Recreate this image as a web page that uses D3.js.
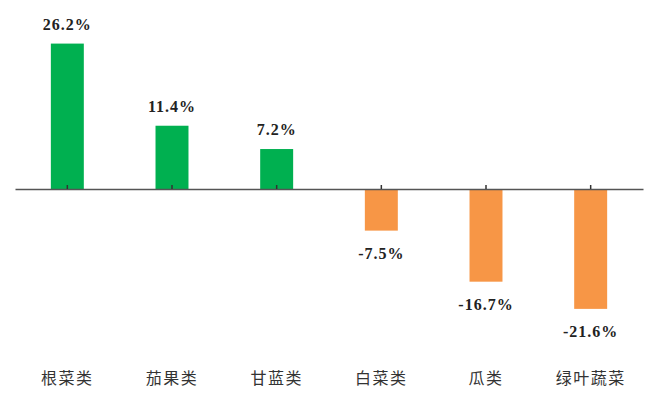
<!DOCTYPE html>
<html>
<head>
<meta charset="utf-8" />
<title>蔬菜价格涨跌</title>
<style>
body {
  margin: 0;
  background: #fff;
}

svg {
  display: block;
}

.value-label {
  font-family: "Liberation Serif", "DejaVu Serif", serif;
  font-weight: bold;
  font-size: 16px;
  fill: #222;
  text-anchor: middle;
  letter-spacing: 1px;
}

.cat-label {
  font-family: "Noto Sans CJK SC", sans-serif;
  font-size: 16px;
  fill: #333;
  text-anchor: middle;
  letter-spacing: 1.5px;
}
</style>
<script src="https://cdn.jsdelivr.net/npm/d3@7/dist/d3.min.js"></script>
</head>
<body>
<svg class="chart"></svg>

<script>

/*******************************
 * Data
 *******************************/
var categories = ["根菜类", "茄果类", "甘蓝类", "白菜类", "瓜类", "绿叶蔬菜"];
var changes = [26.2, 11.4, 7.2, -7.5, -16.7, -21.6];
var value_labels = ["26.2%", "11.4%", "7.2%", "-7.5%", "-16.7%", "-21.6%"];

var width = 649;
var height = 396;
var up_color = "#00b050";
var down_color = "#f79646";

var data = categories.map(function(c, i) {
  return { name: c, value: changes[i], label: value_labels[i] };
});

var svg = d3.select(".chart")
    .attr("width", width)
    .attr("height", height);

// category axis runs the whole width, bars about a third of each slot
var x_position = d3.scaleBand()
    .domain(categories)
    .range([15, 643])
    .paddingInner(0.685)
    .paddingOuter(0.3425);

var y_position = d3.scaleLinear()
    .domain([-30, 30])
    .range([355.5, 22.5]);

var zero = y_position(0);

/*******************************
 * Bars
 *******************************/
svg.selectAll(".bar")
    .data(data)
    .enter()
    .append("rect")
    .attr("class", "bar")
    .attr("x", function(d) { return x_position(d.name); })
    .attr("width", x_position.bandwidth())
    .attr("y", function(d) { return y_position(Math.max(0, d.value)); })
    .attr("height", function(d) { return Math.abs(y_position(d.value) - zero); })
    .attr("fill", function(d) { return d.value >= 0 ? up_color : down_color; });

/*******************************
 * Zero axis with small ticks
 *******************************/
var x_axis = d3.axisTop(x_position)
    .tickSize(4)
    .tickSizeOuter(0)
    .tickFormat("");

var axis_group = svg.append("g")
    .attr("transform", "translate(0," + zero + ")")
    .call(x_axis);

axis_group.select(".domain")
    .attr("stroke", "#555")
    .attr("stroke-width", 1.6);

axis_group.selectAll(".tick line")
    .attr("stroke", "#333")
    .attr("stroke-width", 1.5);

/*******************************
 * Value labels
 *******************************/
svg.selectAll(".value-label")
    .data(data)
    .enter()
    .append("text")
    .attr("class", "value-label")
    .attr("x", function(d) { return x_position(d.name) + x_position.bandwidth() / 2; })
    .attr("y", function(d) {
      return d.value >= 0 ? y_position(d.value) - 14 : y_position(d.value) + 28;
    })
    .text(function(d) { return d.label; });

/*******************************
 * Category labels along the bottom
 *******************************/
svg.selectAll(".cat-label")
    .data(categories)
    .enter()
    .append("text")
    .attr("class", "cat-label")
    .attr("x", function(d) { return x_position(d) + x_position.bandwidth() / 2; })
    .attr("y", 384)
    .text(function(d) { return d; });

</script>
</body>
</html>
